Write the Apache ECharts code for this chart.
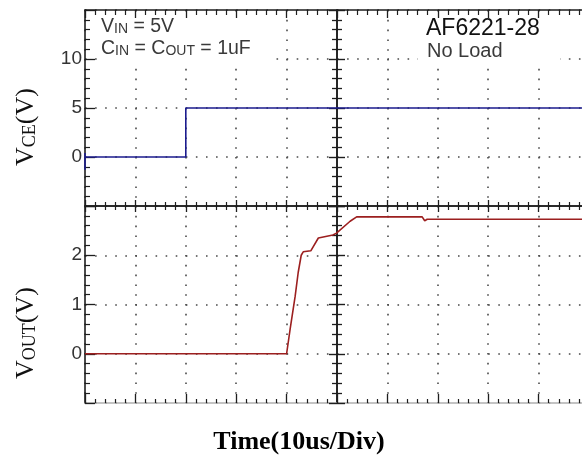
<!DOCTYPE html>
<html>
<head>
<meta charset="utf-8">
<script src="https://cdn.jsdelivr.net/npm/echarts@6/dist/echarts.min.js"></script>
<style>html,body{margin:0;padding:0;background:#fff}#c{width:582px;height:461px}</style>
</head>
<body>
<div id="c"></div>
<script>
// ---- data ----
const vceTime  = [0, 0, 0, 20, 20, 100];
const vceVolts = [-1.3, 0.4, 0, 0, 5, 5];

const voutTime  = [0, 40, 40.7, 41.7, 42.3, 42.9, 43.3, 44.8, 45.0, 46.3, 46.6, 49.2, 49.9, 52.6, 53.9, 66.9, 67.4, 67.9, 100];
const voutVolts = [0, 0, 0.5, 1.17, 1.65, 2.0, 2.07, 2.09, 2.12, 2.35, 2.39, 2.41, 2.45, 2.69, 2.78, 2.78, 2.70, 2.73, 2.73];

const vceTickLabels  = ['0', '5', '10'];
const voutTickLabels = ['0', '1', '2'];

// ---- chart ----
const DARK = '#1e1e1e';
const DOT = {color: '#4a4a4a', width: 1.6, type: [1.6, 8.2]};
const DOTH = {color: '#4a4a4a', width: 1.6, type: [1.6, 8.48]};

function xAx(grid, pos, inside, major, minor, lineColor, split) {
  return {
    gridIndex: grid, type: 'value', min: 0, max: 100, interval: 10, position: pos,
    axisLine: {show: true, onZero: false, lineStyle: {color: lineColor, width: 1.5}},
    axisTick: {show: true, inside: inside, length: major, lineStyle: {color: DARK, width: 1.3}},
    minorTick: {show: true, splitNumber: 5, length: minor, lineStyle: {color: DARK, width: 1.2}},
    axisLabel: {show: false},
    splitLine: {show: !!split, lineStyle: DOT}
  };
}
function yCenter(grid, min, max, interval, inside) {
  return {
    gridIndex: grid, type: 'value', min: min, max: max, interval: interval, position: 'left', offset: -252,
    axisLine: {show: true, onZero: false, lineStyle: {color: DARK, width: 1.6}},
    axisTick: {show: true, inside: inside, length: 8, lineStyle: {color: DARK, width: 1.4}},
    minorTick: {show: true, splitNumber: 5, length: 5, lineStyle: {color: DARK, width: 1.3}},
    axisLabel: {show: false}, splitLine: {show: false}
  };
}
function yMain(grid, min, max, interval, labels) {
  return {
    gridIndex: grid, type: 'value', min: min, max: max, interval: interval, position: 'left',
    axisLine: {show: true, onZero: false, lineStyle: {color: DARK, width: 1.6}},
    axisTick: {show: true, inside: true, length: 10, lineStyle: {color: DARK, width: 1.3}},
    minorTick: {show: true, splitNumber: 5, length: 5, lineStyle: {color: DARK, width: 1.2}},
    axisLabel: {
      show: true, margin: 3, color: '#333', fontSize: 19, fontFamily: 'Liberation Sans',
      formatter: v => labels.includes(String(v)) ? String(v) : ''
    },
    splitLine: {show: true, lineStyle: DOTH}
  };
}

const richSmall = {
  b: {fontFamily: 'Liberation Sans', fontSize: 19.5, lineHeight: 19, verticalAlign: 'bottom'},
  s: {fontFamily: 'Liberation Sans', fontSize: 14, lineHeight: 15, verticalAlign: 'bottom'}
};
const richName = {
  v: {fontFamily: 'Liberation Serif', fontSize: 26, lineHeight: 26, verticalAlign: 'bottom'},
  s: {fontFamily: 'Liberation Serif', fontSize: 18, lineHeight: 20, verticalAlign: 'bottom'}
};

const chart = echarts.init(document.getElementById('c'), null, {renderer: 'canvas'});
const option = {
  backgroundColor: '#fff',
  animation: false,
  grid: [
    {left: 85, top: 10, width: 504, height: 196, outerBoundsMode: 'none', containLabel: false},
    {left: 85, top: 206, width: 504, height: 197, outerBoundsMode: 'none', containLabel: false}
  ],
  xAxis: [
    xAx(0, 'bottom', true, 6, 4, DARK, true),
    xAx(0, 'bottom', false, 6, 4, DARK, false),
    xAx(0, 'top', true, 8, 5, DARK, false),
    xAx(1, 'bottom', true, 9, 4, '#b0b0b0', true)
  ],
  yAxis: [
    yMain(0, -5, 15, 5, vceTickLabels),
    yCenter(0, -5, 15, 5, true),
    yCenter(0, -5, 15, 5, false),
    yMain(1, -1, 3, 1, voutTickLabels),
    yCenter(1, -1, 3, 1, true),
    yCenter(1, -1, 3, 1, false)
  ],
  series: [
    {
      type: 'line', xAxisIndex: 0, yAxisIndex: 0, showSymbol: false, clip: false,
      data: vceTime.map((t, i) => [t, vceVolts[i]]),
      lineStyle: {color: '#1c1c8e', width: 1.6}, z: 5
    },
    {
      type: 'line', xAxisIndex: 3, yAxisIndex: 3, showSymbol: false,
      data: voutTime.map((t, i) => [t, voutVolts[i]]),
      lineStyle: {color: '#9c1f1f', width: 1.6}, z: 5
    }
  ],
  graphic: [
    {type: 'rect', z: 20, shape: {x: 97, y: 19, width: 175, height: 44}, style: {fill: '#fff'}},
    {type: 'rect', z: 20, shape: {x: 418, y: 19, width: 142, height: 44}, style: {fill: '#fff'}},
    {type: 'text', z: 30, x: 26, y: 127, rotation: Math.PI / 2,
     style: {text: '{v|V}{s|CE}{v|(V)}', align: 'center', verticalAlign: 'middle', fill: '#111', rich: richName}},
    {type: 'text', z: 30, x: 26, y: 333, rotation: Math.PI / 2,
     style: {text: '{v|V}{s|OUT}{v|(V)}', align: 'center', verticalAlign: 'middle', fill: '#111', rich: richName}},
    {type: 'text', z: 30, x: 101, y: 27,
     style: {text: '{b|V}{s|IN}{b| = 5V}', align: 'left', verticalAlign: 'middle', fill: '#3a3a3a', rich: richSmall}},
    {type: 'text', z: 30, x: 101, y: 49,
     style: {text: '{b|C}{s|IN}{b| = C}{s|OUT}{b| = 1uF}', align: 'left', verticalAlign: 'middle', fill: '#3a3a3a', rich: richSmall}},
    {type: 'text', z: 30, x: 426, y: 29,
     style: {text: 'AF6221-28', align: 'left', verticalAlign: 'middle', fill: '#111',
       fontFamily: 'Liberation Sans', fontSize: 23}},
    {type: 'text', z: 30, x: 427, y: 51,
     style: {text: 'No Load', align: 'left', verticalAlign: 'middle', fill: '#3a3a3a',
       fontFamily: 'Liberation Sans', fontSize: 20}},
    {type: 'text', z: 30, x: 299, y: 442,
     style: {text: 'Time(10us/Div)', align: 'center', verticalAlign: 'middle', fill: '#000',
       fontFamily: 'Liberation Serif', fontWeight: 'bold', fontSize: 26}}
  ]
};
chart.setOption(option);
</script>
</body>
</html>
